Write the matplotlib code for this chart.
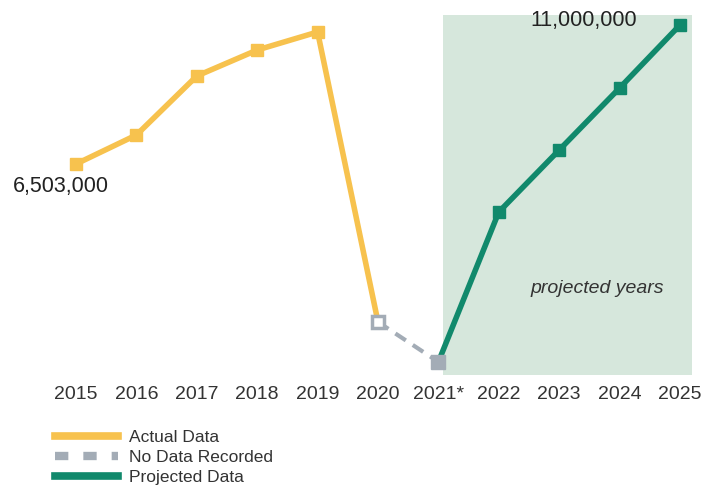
import matplotlib
matplotlib.use("Agg")
import matplotlib.pyplot as plt
from matplotlib.lines import Line2D

years = ["2015", "2016", "2017", "2018", "2019", "2020", "2021*", "2022", "2023", "2024", "2025"]
actual = [6503000, 7441000, 9350000, 10191000, 10774000, 1391000]
no_data = [1391000, 100000]
projected = [100000, 4950000, 6956000, 8962000, 11000000]

plt.rcParams['font.family'] = ['Liberation Sans', 'DejaVu Sans']

ORANGE = "#f7c24e"
GRAY = "#a3acb6"
TEAL = "#11896c"
SHADE = "#d6e7dc"

fig = plt.figure(figsize=(7.06, 4.91), dpi=100)
ax = fig.add_axes([0, 1 - 375 / 491, 1, 360 / 491])

x = list(range(len(years)))
ax.axvspan(6.08, 10.2, color=SHADE, zorder=0, lw=0)

ax.plot(x[0:6], actual, color=ORANGE, lw=4, marker='s', markersize=9,
        markevery=list(range(5)), zorder=3, solid_capstyle='butt')
ax.plot(x[5:7], no_data, color=GRAY, lw=3, ls=(0, (3, 2)), zorder=2)
ax.plot([x[5]], [no_data[0]], marker='s', markersize=8, markerfacecolor='white',
        markeredgecolor=GRAY, markeredgewidth=2.5, ls='none', zorder=4)
ax.plot(x[6:], projected, color=TEAL, lw=4, marker='s', markersize=9,
        markevery=list(range(1, 5)), zorder=3)
ax.plot([x[6]], [projected[0]], marker='s', markersize=10, color=GRAY, ls='none', zorder=4)

px_per_year = 60.4
ax.set_xlim(-76 / px_per_year, (706 - 76) / px_per_year)
ax.set_ylim(-323500, 11323600)

ax.set_xticks(x)
ax.set_xticklabels(years, fontsize=14, color='#333333')
ax.tick_params(axis='x', length=0, pad=8)
ax.set_yticks([])
for s in ax.spines.values():
    s.set_visible(False)
ax.patch.set_alpha(0)

ax.annotate("6,503,000", xy=(x[0], actual[0]), xytext=(-11, -16.5), textcoords='offset points',
            ha='center', va='center', fontsize=15.5, color='#222222')
ax.annotate("11,000,000", xy=(x[10], projected[-1]), xytext=(-69, 3), textcoords='offset points',
            ha='center', va='center', fontsize=15.5, color='#222222')
ax.text(8.63, 2491000, "projected years", fontsize=14, style='italic', color='#333333',
        ha='center', va='center')

handles = [
    Line2D([], [], color=ORANGE, lw=5.5),
    Line2D([], [], color=GRAY, lw=6, ls=(0, (1.6, 1.8))),
    Line2D([], [], color=TEAL, lw=5.5),
]
labels = ["Actual Data", "No Data Recorded", "Projected Data"]
fig.legend(handles, labels, loc='upper left', bbox_to_anchor=(55 / 706, 1 - 430 / 491),
           frameon=False, fontsize=12.5, handlelength=3.6, handletextpad=0.65,
           labelspacing=0.28, borderaxespad=0, borderpad=0, labelcolor='#333333')

fig.savefig("out.png", dpi=100)
